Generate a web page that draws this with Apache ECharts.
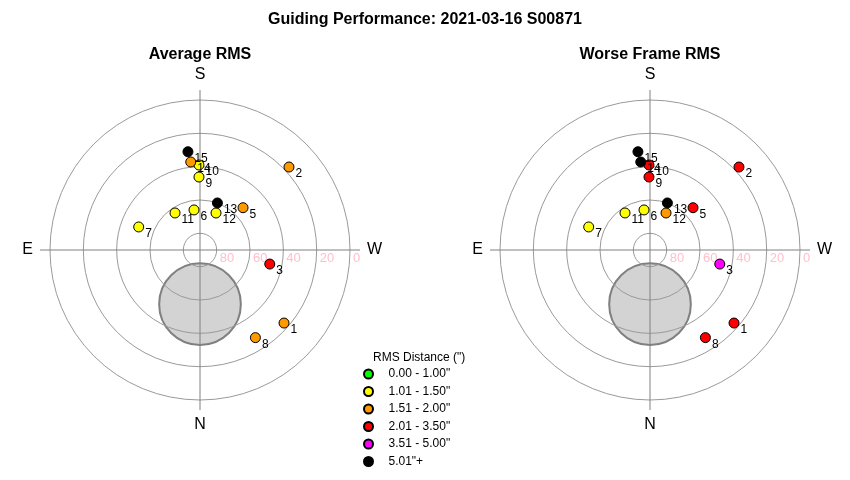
<!DOCTYPE html>
<html>
<head>
<meta charset="utf-8">
<script src="https://cdn.jsdelivr.net/npm/echarts@6/dist/echarts.min.js"></script>
<style>
html,body{margin:0;padding:0;background:#fff;}
#chart{width:850px;height:480px;}
</style>
</head>
<body>
<div id="chart"></div>
<script>
// ---- data ----
const frames   = [1, 2, 3, 5, 6, 7, 8, 9, 10, 11, 12, 13, 14, 15];
const altitude = [23.2, 17.0, 47.3, 53.8, 65.7, 50.7, 27.8, 46.2, 39.0, 63.2, 65.8, 59.9, 36.9, 30.6];
const azimuth  = [311.0, 227.0, 281.4, 225.5, 171.5, 110.6, 327.7, 179.2, 179.3, 146.0, 203.4, 200.3, 174.0, 173.0];
const avgBin   = [2, 2, 3, 2, 1, 1, 2, 1, 1, 1, 1, 5, 2, 5];
const worstBin = [3, 3, 4, 3, 1, 1, 3, 3, 3, 1, 2, 5, 5, 5];
const binLabels = ['0.00 - 1.00"', '1.01 - 1.50"', '1.51 - 2.00"', '2.01 - 3.50"', '3.51 - 5.00"', '5.01"+'];
const binColors = ['#00ff00', '#ffff00', '#ff9900', '#ff0000', '#ff00ff', '#000000'];
const ringAltitudes = [80, 60, 40, 20, 0];
const compassLabels = {0: 'N', 90: 'E', 180: 'S', 270: 'W'};
const zoneAltitude = 57.5, zoneAzimuth = 0, zoneRadius = 24.5;
const panelTitles = ['Average RMS', 'Worse Frame RMS'];
const panelBins = [avgBin, worstBin];

const FONT = 'Arial, "Liberation Sans", sans-serif';
const chart = echarts.init(document.getElementById('chart'), null, {renderer: 'canvas'});

const polars = [{center: [200, 250], radius: 160}, {center: [650, 250], radius: 160}];
const angleAxes = [], radiusAxes = [], series = [];

function dist(a, b) { return Math.hypot(a[0] - b[0], a[1] - b[1]); }

[0, 1].forEach(function (pi) {
  angleAxes.push({
    polarIndex: pi, type: 'value', min: 0, max: 360, interval: 90,
    startAngle: 270, clockwise: true,
    axisLine: {show: false}, axisTick: {show: false}, splitLine: {show: false},
    axisLabel: {
      margin: 7, fontSize: 16, color: '#000', fontFamily: FONT,
      formatter: function (v) { return v >= 360 ? '' : (compassLabels[v] || ''); }
    }
  });
  radiusAxes.push({polarIndex: pi, type: 'value', min: 0, max: 96, show: false});

  // one custom series: grey restricted disc, then rings and cross lines drawn over it
  series.push({
    type: 'custom', coordinateSystem: 'polar', polarIndex: pi, z: 2, silent: true,
    data: [[90 - zoneAltitude, zoneAzimuth, zoneRadius]],
    renderItem: function (params, api) {
      const o = api.coord([0, 0]);
      const c = api.coord([api.value(0), api.value(1)]);
      const zr = dist(o, api.coord([api.value(2), 0]));
      const children = [];
      children.push({type: 'circle', z2: 0, shape: {cx: c[0], cy: c[1], r: zr},
        style: {fill: '#d3d3d3', stroke: '#808080', lineWidth: 2}});
      ringAltitudes.forEach(function (a) {
        const r = dist(o, api.coord([90 - a, 0]));
        children.push({type: 'arc', z2: 10,
          shape: {cx: o[0], cy: o[1], r: r, startAngle: 0, endAngle: Math.PI * 2},
          style: {fill: null, stroke: '#9a9a9a', lineWidth: 1}});
      });
      const R = 96;
      const n = api.coord([R, 0]), s = api.coord([R, 180]);
      const e = api.coord([R, 90]), w = api.coord([R, 270]);
      children.push({type: 'polyline', z2: 10, shape: {points: [n, s]},
        style: {fill: null, stroke: '#808080', lineWidth: 1}});
      children.push({type: 'polyline', z2: 10, shape: {points: [e, w]},
        style: {fill: null, stroke: '#808080', lineWidth: 1}});
      return {type: 'group', children: children};
    }
  });
  // ring labels (pink)
  series.push({
    type: 'custom', coordinateSystem: 'polar', polarIndex: pi, z: 3, silent: true,
    data: ringAltitudes.map(function (a) { return [90 - a, 270, a]; }),
    renderItem: function (params, api) {
      const p = api.coord([api.value(0), api.value(1)]);
      return {type: 'text', x: p[0] + 3, y: p[1] + 8.5,
        style: {text: String(api.value(2)), fill: '#ffc0cb', font: '13px ' + FONT,
          align: 'left', verticalAlign: 'middle'}};
    }
  });
  // points by RMS bin
  binLabels.forEach(function (name, b) {
    const data = [];
    frames.forEach(function (f, i) {
      if (panelBins[pi][i] === b) data.push([90 - altitude[i], azimuth[i], f]);
    });
    series.push({
      type: 'scatter', name: name, coordinateSystem: 'polar', polarIndex: pi, z: 5,
      symbol: 'circle', symbolSize: 10,
      itemStyle: {color: binColors[b], borderColor: '#000', borderWidth: 1, opacity: 1},
      label: {show: true, position: 'right', distance: 1, offset: [0, 7],
        formatter: function (p) { return String(p.value[2]); },
        fontSize: 12, color: '#000', fontFamily: FONT},
      emphasis: {disabled: true},
      data: data
    });
  });
});

chart.setOption({
  animation: false,
  backgroundColor: '#fff',
  title: [
    {text: 'Guiding Performance: 2021-03-16 S00871', left: 425, top: 12, textAlign: 'center', padding: 0,
      textStyle: {fontSize: 16, fontWeight: 'bold', color: '#000', fontFamily: FONT}},
    {text: panelTitles[0], left: 200, top: 47, textAlign: 'center', padding: 0,
      textStyle: {fontSize: 16, fontWeight: 'bold', color: '#000', fontFamily: FONT}},
    {text: panelTitles[1], left: 650, top: 47, textAlign: 'center', padding: 0,
      textStyle: {fontSize: 16, fontWeight: 'bold', color: '#000', fontFamily: FONT}},
    {text: 'RMS Distance (")', left: 373, top: 352, padding: 0,
      textStyle: {fontSize: 12, fontWeight: 'normal', color: '#000', fontFamily: FONT}}
  ],
  legend: {
    orient: 'vertical', left: 363, top: 367, padding: 0,
    itemWidth: 30, itemHeight: 9, itemGap: 3.5, selectedMode: false,
    icon: 'circle',
    data: binLabels,
    textStyle: {fontSize: 12, color: '#000', fontFamily: FONT, lineHeight: 14, padding: [0, 0, 0, 0]}
  },
  polar: polars,
  angleAxis: angleAxes,
  radiusAxis: radiusAxes,
  series: series
});
</script>
</body>
</html>
